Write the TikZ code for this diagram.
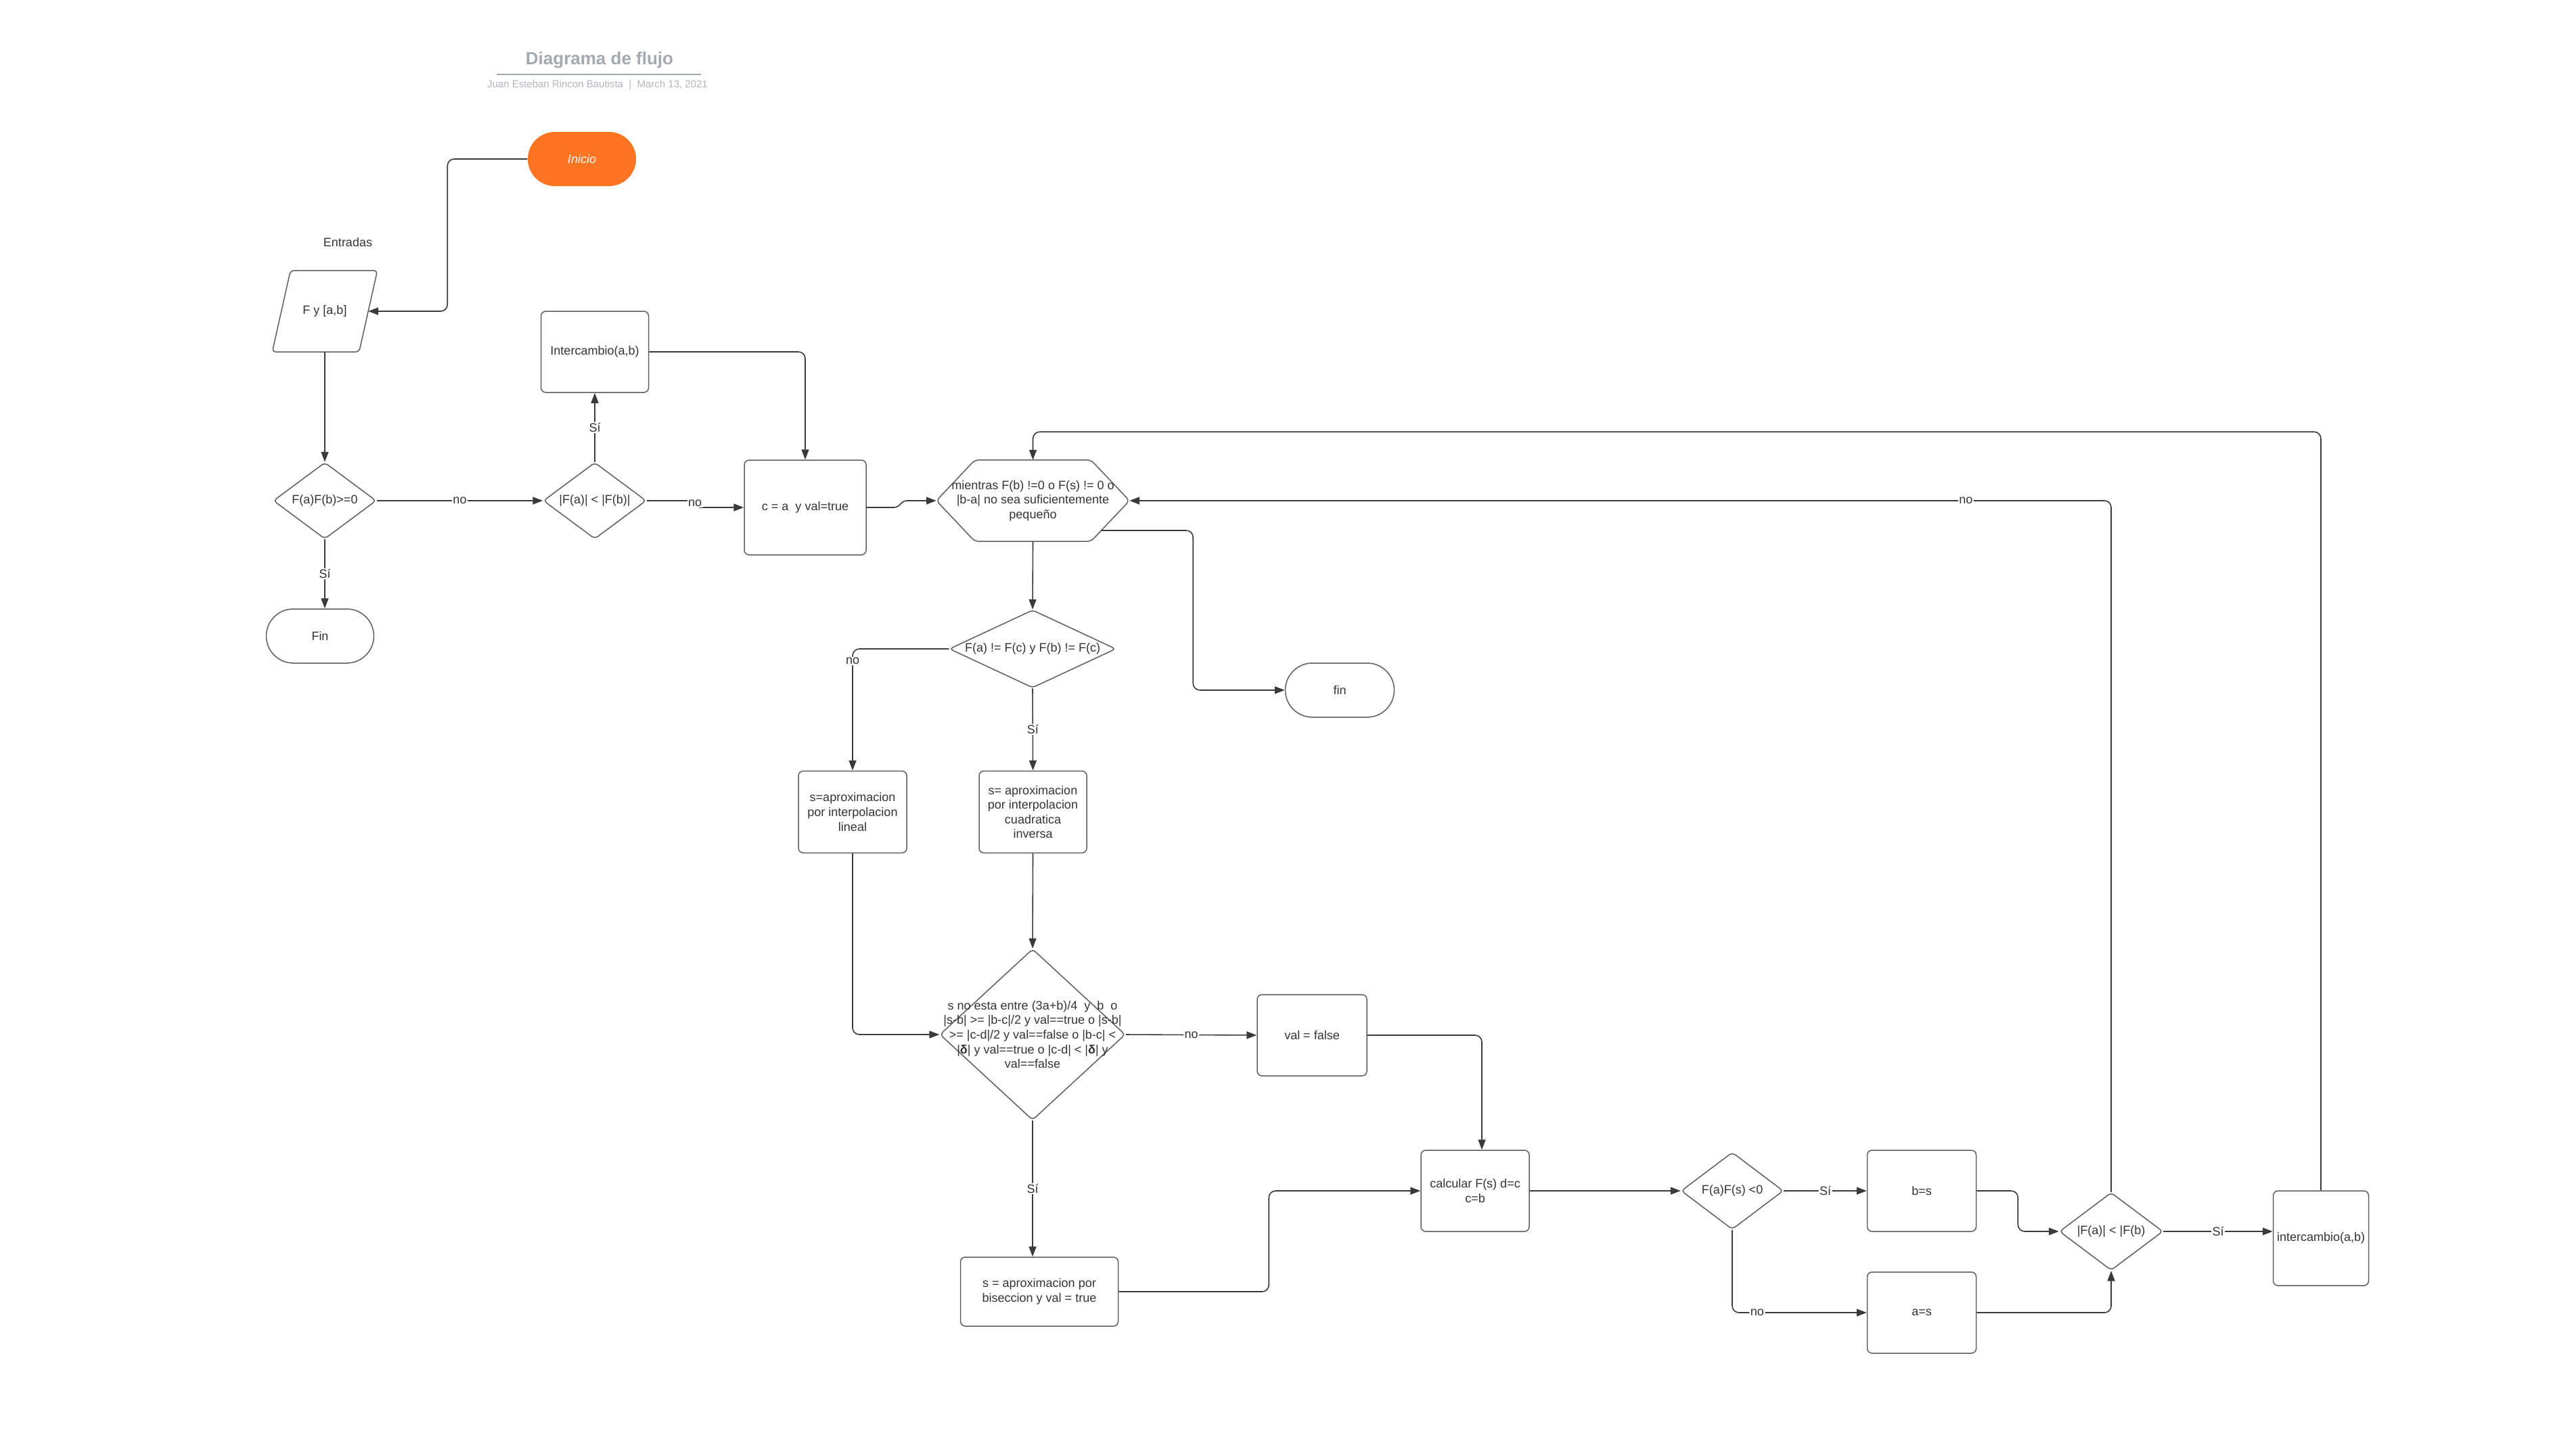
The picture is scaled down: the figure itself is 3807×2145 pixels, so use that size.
\documentclass[tikz,border=0pt]{standalone}
\usepackage{fontspec}
\setmainfont{Liberation Sans}
\usetikzlibrary{shapes.geometric,arrows.meta,calc}
\definecolor{ink}{HTML}{333333}
\definecolor{edgecol}{HTML}{3A3A3A}
\definecolor{framecol}{HTML}{5E5E5E}
\definecolor{startfill}{HTML}{FE7420}
\definecolor{titlegray}{HTML}{A3A9B3}
\definecolor{subgray}{HTML}{B0B5BE}
\newcommand\bodyfont{\fontsize{18}{21.6}\selectfont}

\begin{document}
\begin{tikzpicture}[x=1pt,y=-1pt,
  every node/.style={font=\bodyfont, text=ink},
  box/.style={rectangle, draw=framecol, line width=1.5pt, rounded corners=7pt,
    inner sep=0pt, align=center},
  term/.style={rectangle, draw=framecol, line width=1.5pt, rounded corners=40pt,
    inner sep=0pt, minimum width=160pt, minimum height=80pt},
  decision/.style={diamond, draw=framecol, line width=1.5pt, rounded corners=5pt,
    inner sep=0pt},
  outline/.style={draw=framecol, line width=1.5pt},
  conn/.style={draw=edgecol, line width=1.6pt, rounded corners=10pt,
    -{Triangle[length=15pt,width=11pt]}},
  tag/.style={fill=white, inner sep=1.5pt},
]
\useasboundingbox (0,0) rectangle (3807,2145);

% heading
\node[text=titlegray] (title) at (886,89) {\fontsize{26}{30}\selectfont\bfseries Diagrama de flujo};
\draw[titlegray, line width=2.5pt] (734,110) -- (1036,110);
\node[text=subgray] (byline) at (883,126) {\fontsize{15}{18}\selectfont Juan Esteban Rincon Bautista\ \ |\ \ March 13, 2021};

% start and input
\node[term, fill=startfill, draw=none, text=white, font=\bodyfont\itshape] (inicio) at (860,235) {Inicio};
\node (entradas) at (514,358) {Entradas};
\node[minimum width=128pt, minimum height=120pt, inner sep=0pt] (entrada) at (480,460) {F y [a,b]};
\draw[outline, rounded corners=5pt]
  ($(entrada.south west)+(-13.5,0)$) -- ($(entrada.south east)+(-13.5,0)$) --
  ($(entrada.north east)+(13.5,0)$) -- ($(entrada.north west)+(13.5,0)$) -- cycle;

% first checks
\node[decision, minimum width=152pt, minimum height=113pt, label={center:{F(a)F(b)>=0}}] (d1) at (480,740) {};
\node[term, minimum width=159pt] (fin1) at (473,940) {Fin};
\node[decision, minimum width=152pt, minimum height=113pt, label={center:{|F(a)| < |F(b)|}}] (d2) at (879,740) {};
\node[box, minimum width=159pt, minimum height=120pt] (inter1) at (879,520) {Intercambio(a,b)};
\node[box, minimum width=180pt, minimum height=140pt] (ceq) at (1190,750) {c = a\ \ y val=true};

% loop head
\node[minimum width=285pt, minimum height=120pt, inner sep=0pt, align=center] (hex) at (1526.5,740)
  {mientras F(b) !=0 o F(s) != 0 o\\|b-a| no sea suficientemente\\pequeño};
\draw[outline, rounded corners=6pt]
  (hex.west) -- ($(hex.north west)+(57,0)$) -- ($(hex.north east)+(-57,0)$) --
  (hex.east) -- ($(hex.south east)+(-57,0)$) -- ($(hex.south west)+(57,0)$) -- cycle;
\coordinate (hexexit) at ($(hex.east)+(-42,44)$);
\node[term, minimum width=161pt] (fin2) at (1980,1020) {fin};

% choice of approximation
\node[decision, minimum width=246pt, minimum height=115pt, label={center:{F(a) != F(c) y F(b) != F(c)}}] (d3) at (1526,959) {};
\node[box, minimum width=160pt, minimum height=121pt] (lineal) at (1260,1200) {s=aproximacion\\por interpolacion\\lineal};
\node[box, minimum width=159pt, minimum height=121pt] (cuad) at (1526.5,1200) {s= aproximacion\\por interpolacion\\cuadratica\\inversa};
\node[decision, minimum width=274pt, minimum height=253pt,
  label={[align=center]center:{s no esta entre (3a+b)/4\ \ y\ \ b\ \ o\\|s-b| >= |b-c|/2 y val==true o |s-b|\\>= |c-d|/2 y val==false o |b-c| <\\|\textbf{δ}| y val==true o |c-d| < |\textbf{δ}| y\\val==false}}] (d4) at (1526,1529) {};
\node[box, minimum width=162pt, minimum height=120pt] (valf) at (1939,1530) {val = false};
\node[box, minimum width=233pt, minimum height=102pt] (bisec) at (1536,1909) {s = aproximacion por\\biseccion y val = true};

% update of the bracket
\node[box, minimum width=160pt, minimum height=120pt] (calc) at (2180,1760) {calcular F(s) d=c\\c=b};
\node[decision, minimum width=151pt, minimum height=114pt, label={center:{F(a)F(s) <0}}] (d5) at (2560,1760) {};
\node[box, minimum width=161pt, minimum height=120pt] (bs) at (2840,1760) {b=s};
\node[box, minimum width=161pt, minimum height=120pt] (as) at (2840,1940) {a=s};
\node[decision, minimum width=153pt, minimum height=115pt, label={center:{|F(a)| < |F(b)}}] (d6) at (3120,1820) {};
\node[box, minimum width=141pt, minimum height=140pt] (inter2) at (3430,1830) {intercambio(a,b)};

% connectors
\draw[conn] (inicio.west) -- ++(-118,0) |- (entrada.east);
\draw[conn] (entrada.south) -- (d1.north);
\draw[conn] (d1.east) -- node[tag] {no} (d2.west);
\draw[conn] (d1.south) -- node[tag] {Sí} (d1.south |- fin1.north);
\draw[conn] (d2.north) -- node[tag] {Sí} (inter1.south);
\draw[conn, rounded corners=3pt] (d2.east) -- ++(66,0) -- ++(10,10) -- (ceq.west);
\node[tag] (nod2) at (1027,744) {no};
\draw[conn] (inter1.east) -| (ceq.north);
\draw[conn, rounded corners=4pt] (ceq.east) -- ++(45,0) -- ++(10,-10) -- (hex.west);
\draw[conn] (hex.south) -- (d3.north);
\draw[conn] (hexexit) -- ++(136,0) |- (fin2.west);
\draw[conn] (d3.west) -| node[tag, pos=0.55] {no} (lineal.north);
\draw[conn] (d3.south) -- node[tag] {Sí} (cuad.north);
\draw[conn] (lineal.south) |- (d4.west);
\draw[conn] (cuad.south) -- (d4.north);
\draw[conn] (d4.east) -- node[tag] {no} (valf.west);
\draw[conn] (d4.south) -- node[tag] {Sí} (d4.south |- bisec.north);
\draw[conn] (bisec.east) -- ++(222,0) |- (calc.west);
\draw[conn] (valf.east) -| ($(calc.north)+(10,0)$);
\draw[conn] (calc.east) -- (d5.west);
\draw[conn] (d5.east) -- node[tag] {Sí} (bs.west);
\draw[conn] (d5.south) |- node[tag, pos=0.593] {no} (as.west);
\draw[conn] (bs.east) -- ++(61,0) |- (d6.west);
\draw[conn] (as.east) -| (d6.south);
\draw[conn] (d6.north) |- node[tag, pos=0.574] {no} (hex.east);
\draw[conn] (d6.east) -- node[tag] {Sí} (d6.east -| inter2.west);
\draw[conn] (inter2.north) -- ++(0,-1121) -| (hex.north);
\end{tikzpicture}
\end{document}
